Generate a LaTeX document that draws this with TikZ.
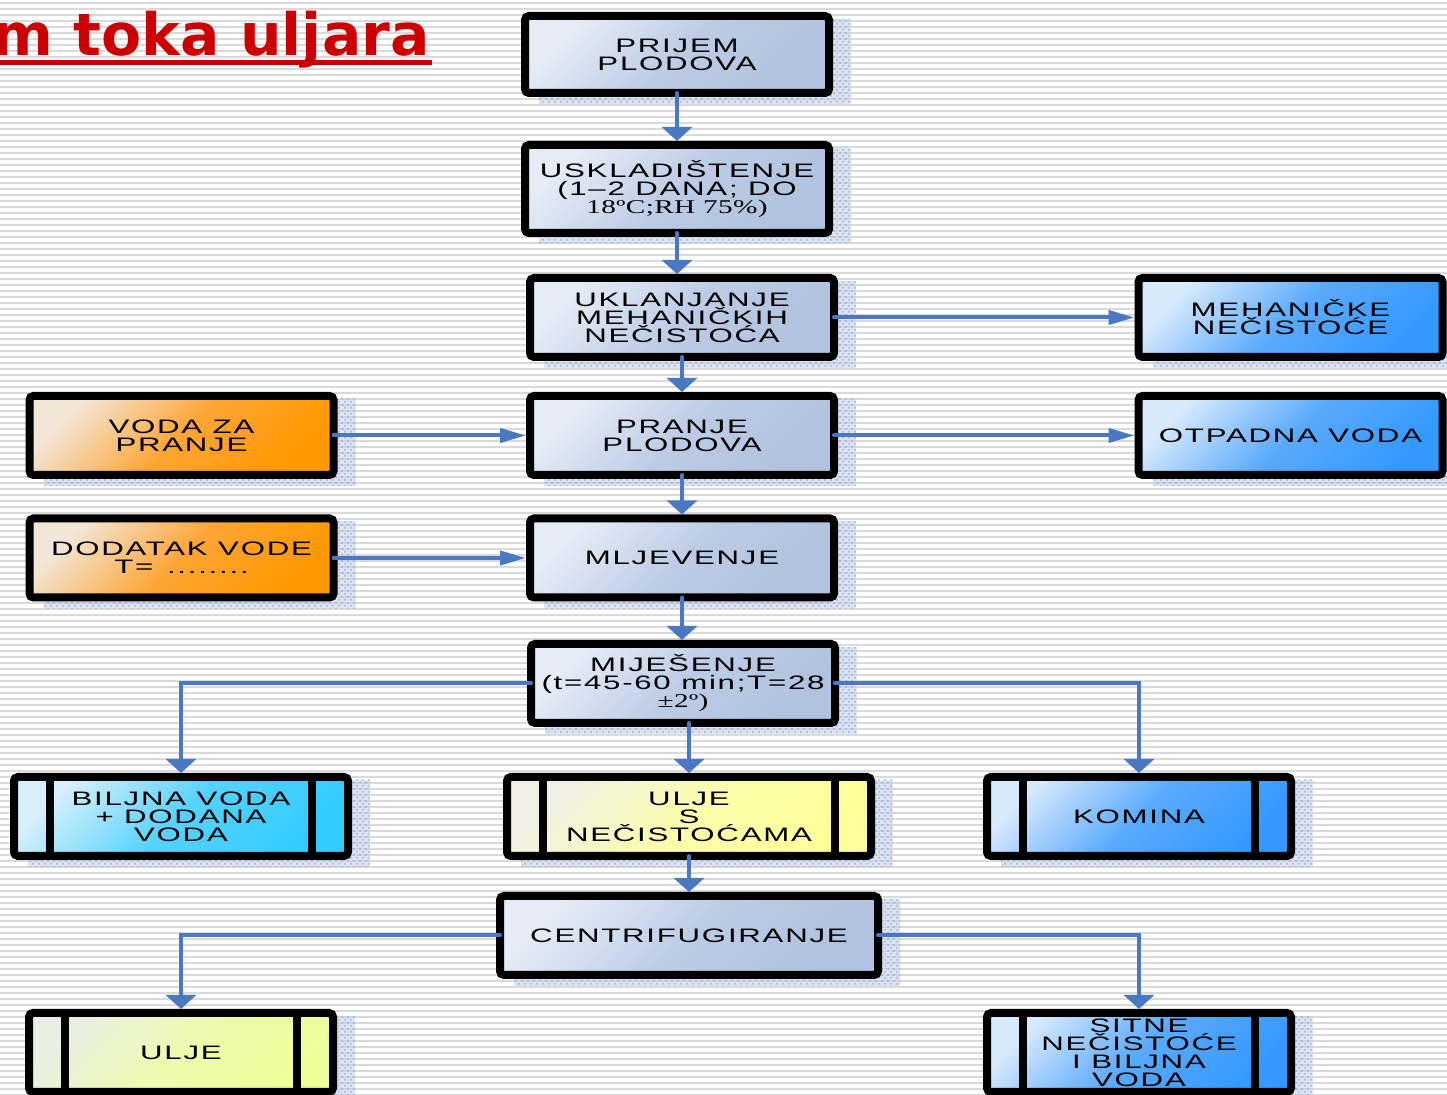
\documentclass[tikz,border=0pt]{standalone}
\usepackage{fontspec}
\usetikzlibrary{arrows.meta,patterns}
\newfontfamily\bx[FakeStretch=1.6,LetterSpace=9]{Liberation Sans}
\newfontfamily\bxs[FakeStretch=1.5,LetterSpace=2]{Liberation Serif}
\newfontfamily\tfont{DejaVu Sans}
\definecolor{stripe}{HTML}{DADADA}
\definecolor{arrowblue}{HTML}{4A78C2}
\definecolor{titlered}{HTML}{CC0000}
\definecolor{shdblue}{HTML}{7893CC}
\definecolor{shdfill}{HTML}{C6D1E8}
\definecolor{gA}{HTML}{E5ECF6}\definecolor{gM}{HTML}{BDCCE5}\definecolor{gB}{HTML}{B0C2DF}
\definecolor{oA}{HTML}{F2E6D8}\definecolor{oM}{HTML}{FDA534}\definecolor{oB}{HTML}{FF9900}
\definecolor{cA}{HTML}{D6EFFA}\definecolor{cM}{HTML}{55D2FC}\definecolor{cB}{HTML}{33CCFF}
\definecolor{bA}{HTML}{D8E9FC}\definecolor{bM}{HTML}{5AAAFB}\definecolor{bB}{HTML}{3399FF}
\definecolor{yA}{HTML}{F0F0E6}\definecolor{yM}{HTML}{FCFCAC}\definecolor{yB}{HTML}{FFFF99}
\definecolor{lA}{HTML}{EAEFE4}\definecolor{lM}{HTML}{EEFAAE}\definecolor{lB}{HTML}{EEFF99}
\pgfdeclarelayer{bg}\pgfdeclarelayer{shd}
\pgfsetlayers{bg,shd,main}
\newcommand\shadowfor[1]{\begin{pgfonlayer}{shd}\fill[shdfill, fill opacity=0.6, postaction={pattern=crosshatch dots, pattern color=shdblue}] ([shift={(14,3)}]#1.north west) rectangle ([shift={(22,11)}]#1.south east);\end{pgfonlayer}}
\newcommand\ppbars[1]{\draw[line width=4pt] ([xshift=18pt]#1.north west) -- ([xshift=18pt]#1.south west) ([xshift=-18pt]#1.north east) -- ([xshift=-18pt]#1.south east);}
\tikzset{
  box/.style={draw=black, line width=4pt, rounded corners=2pt, inner sep=0pt, outer sep=0pt,
    align=center, font=\bx\fontsize{9.75}{9}\selectfont, minimum width=152pt, minimum height=39.5pt},
  grey/.style={box, top color=gA, bottom color=gB, middle color=gM, shading angle=45},
  orng/.style={box, top color=oA, bottom color=oB, middle color=oM, shading angle=45},
  cyanb/.style={box, top color=cA, bottom color=cB, middle color=cM, shading angle=45},
  blueb/.style={box, top color=bA, bottom color=bB, middle color=bM, shading angle=45},
  yelb/.style={box, top color=yA, bottom color=yB, middle color=yM, shading angle=45},
  limeb/.style={box, top color=lA, bottom color=lB, middle color=lM, shading angle=45},
  conn/.style={draw=arrowblue, line width=2pt, line cap=round},
  va/.style={conn, -{Triangle[width=15pt,length=7pt]}, shorten >=2pt},
  ha/.style={conn, -{Triangle[width=7pt,length=13pt]}, shorten >=2pt},
}
\begin{document}
\begin{tikzpicture}[x=0.5pt,y=-0.5pt]
\useasboundingbox (0,0) rectangle (1447,1095);
\clip (0,0) rectangle (1447,1095);
\begin{pgfonlayer}{bg}
\fill[white] (0,0) rectangle (1447,1095);
\foreach \y in {2,8,...,1094} \fill[stripe] (0,\y) rectangle (1447,\y+2);
\end{pgfonlayer}

% title (cut off at the left edge, as in the reference)
\node[anchor=base east, inner sep=0pt, text=titlered, font=\tfont\bfseries\fontsize{29.2}{30}\selectfont] (ttl) at (430,56) {m toka uljara};
\draw[titlered, line width=2.5pt] (0,62.5) -- (432,62.5);

% boxes
\node[grey, minimum height=38.5pt] (pri) at (677,54.5) {PRIJEM\\PLODOVA};
\node[grey, minimum height=44pt] (usk) at (677,189) {USKLADIŠTENJE\\(1–2 DANA; DO\\{\bxs 18ºC;RH 75\%)}};
\node[grey] (ukl) at (682,317.5) {UKLANJANJE\\MEHANIČKIH\\NEČISTOĆA};
\node[blueb] (meh) at (1290.5,317.5) {MEHANIČKE\\NEČISTOĆE};
\node[grey] (pra) at (682,435.5) {PRANJE\\PLODOVA};
\node[blueb] (otp) at (1290.5,435.5) {OTPADNA VODA};
\node[orng] (vzp) at (181.5,435.5) {VODA ZA\\PRANJE};
\node[orng] (dod) at (181.5,558) {DODATAK VODE\\T= \,........};
\node[grey] (mlj) at (682,558) {MLJEVENJE};
\node[grey] (mij) at (683,683.5) {MIJEŠENJE\\(t=45-60 min;T=28\\{\bxs ±2º)}};
\node[cyanb, minimum width=167pt] (bil) at (181,816.5) {BILJNA VODA\\+ DODANA\\VODA};
\node[yelb, minimum width=182pt] (uls) at (689,816.5) {ULJE\\S\\NEČISTOĆAMA};
\node[blueb] (kom) at (1139,816.5) {KOMINA};
\node[grey, minimum width=189pt] (cen) at (689,935.5) {CENTRIFUGIRANJE};
\node[limeb] (ulj) at (181,1052.5) {ULJE};
\node[blueb] (sit) at (1139,1052.5) {SITNE\\NEČISTOĆE\\I BILJNA\\VODA};

\foreach \n in {pri,usk,ukl,meh,pra,otp,vzp,dod,mlj,mij,bil,uls,kom,cen,ulj,sit} {\shadowfor{\n}}
\foreach \n in {bil,uls,kom,ulj,sit} {\ppbars{\n}}

% connectors
\draw[va] (pri.south) -- (usk.north);
\draw[va] (usk.south) -- (usk.south |- ukl.north);
\draw[va] (ukl.south) -- (pra.north);
\draw[va] (pra.south) -- (mlj.north);
\draw[va] (mlj.south) -- (mlj.south |- mij.north);
\draw[ha] (ukl.east) -- (meh.west);
\draw[ha] (pra.east) -- (otp.west);
\draw[ha] (vzp.east) -- (pra.west);
\draw[ha] (dod.east) -- (mlj.west);
\draw[va] (mij.west) -| (bil.north);
\draw[va] (mij.east) -| (kom.north);
\draw[va] (mij.south -| uls.north) -- (uls.north);
\draw[va] (uls.south) -- (cen.north);
\draw[va] (cen.west) -| (ulj.north);
\draw[va] (cen.east) -| (sit.north);
\end{tikzpicture}
\end{document}
